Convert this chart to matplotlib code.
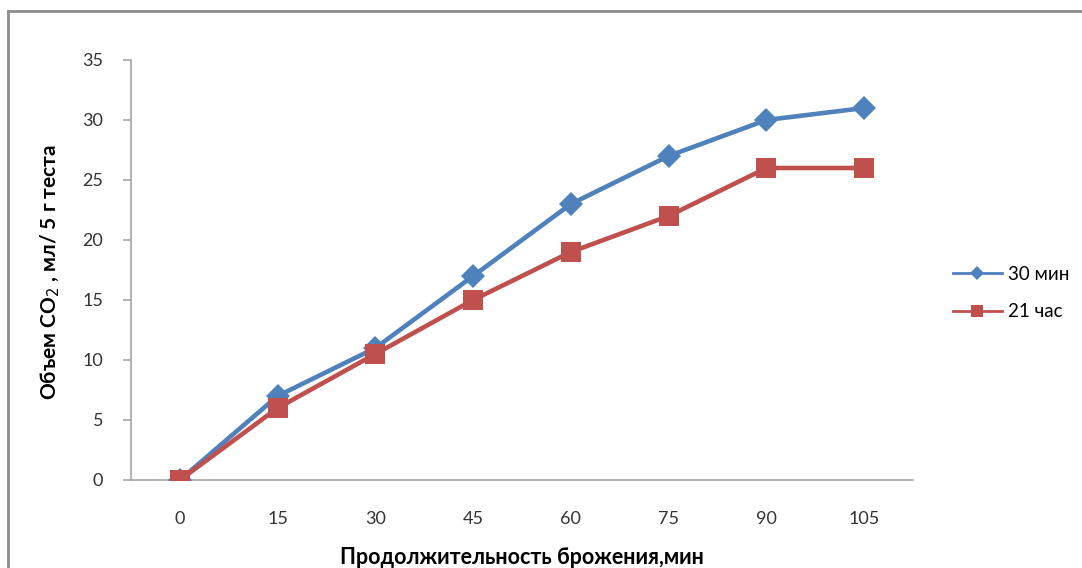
import matplotlib as mpl

mpl.use("Agg")
import matplotlib.pyplot as plt
from matplotlib.lines import Line2D

#
# --- CO2 volume by fermentation time
#
minutes = ["0", "15", "30", "45", "60", "75", "90", "105"]
co2_30min = [0, 7, 11, 17, 23, 27, 30, 31]
co2_21h = [0, 6, 10.5, 15, 19, 22, 26, 26]
series_labels = ["30 мин", "21 час"]
y_ticks = [0, 5, 10, 15, 20, 25, 30, 35]

BLUE = "#4F81BD"
RED = "#C0504D"
AXIS_GREY = "#A6A6A6"

plt.rcParams["font.family"] = ["Lato", "DejaVu Sans"]

W, H = 1082, 568
fig = plt.figure(figsize=(W / 100, H / 100), dpi=100)
ax = fig.add_axes([131 / W, (H - 480) / H, (913 - 131) / W, (480 - 60) / H])

x = list(range(len(minutes)))
ax.plot(x, co2_30min, color=BLUE, lw=3.3, marker="D", markersize=12,
        markeredgewidth=0, zorder=3)
ax.plot(x, co2_21h, color=RED, lw=3.3, marker="s", markersize=14,
        markeredgewidth=0, zorder=4)

ax.set_xlim(-0.5, len(minutes) - 0.5)
ax.set_ylim(0, 35)
ax.set_xticks(x)
ax.set_xticklabels(minutes)
ax.set_yticks(y_ticks)

for side in ["top", "right"]:
    ax.spines[side].set_visible(False)
for side in ["left", "bottom"]:
    ax.spines[side].set_color(AXIS_GREY)
    ax.spines[side].set_linewidth(1.2)
ax.tick_params(axis="y", length=6, width=1.2, color=AXIS_GREY,
               labelsize=13, labelcolor="#333333", pad=14)
ax.tick_params(axis="x", length=0, labelsize=13, labelcolor="#333333", pad=22)

fig.text(50 / W, 1 - 272 / H, "Объем CO$_2$ , мл/ 5 г теста", rotation=90,
         ha="center", va="center", fontsize=15, fontweight="bold")
fig.text(522 / W, 1 - 557 / H, "Продолжительность брожения,мин",
         ha="center", va="center", fontsize=15.5, fontweight="bold")

#
# --- Legend to the right of the plot area (thinner lines, small markers)
#
handles = [
    Line2D([], [], color=BLUE, lw=2, marker="D", markersize=7, markeredgewidth=0),
    Line2D([], [], color=RED, lw=2, marker="s", markersize=8, markeredgewidth=0),
]
fig.legend(handles=handles, labels=series_labels, loc="center left",
           bbox_to_anchor=(936 / W, 1 - 293 / H), frameon=False,
           fontsize=13.5, handlelength=2.6, labelspacing=1.1,
           handletextpad=0.35)

#
# --- Chart frame
#
fig.add_artist(Line2D([8 / W, 1.0], [1 - 11 / H, 1 - 11 / H],
                      transform=fig.transFigure, color="#8C8C8C", lw=2))
fig.add_artist(Line2D([8 / W, 8 / W], [1 - 11 / H, 0.0],
                      transform=fig.transFigure, color="#8C8C8C", lw=2))

fig.savefig("out.png", dpi=100)
